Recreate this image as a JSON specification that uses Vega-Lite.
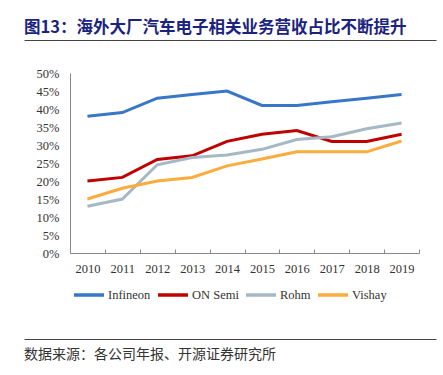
{
  "$schema": "https://vega.github.io/schema/vega-lite/v6.json",
  "padding": {"left": 23, "top": 19, "right": 8, "bottom": 5},
  "background": "white",
  "spacing": 23,
  "config": {"view": {"stroke": null}, "font": "Liberation Serif", "legend": {"labelFont": "Liberation Serif"}},
  "resolve": {"legend": {"color": "independent"}, "scale": {"color": "independent"}},
  "vconcat": [
    {
      "width": 412,
      "height": 3,
      "view": {"stroke": "#444444", "strokeWidth": 1, "strokeDash": [412, 3000]},
      "data": {"values": [{"k": 0.5}]},
      "mark": {"type": "rule", "color": "#444444", "strokeWidth": 1, "opacity": 0},
      "encoding": {
        "y": {"field": "k", "type": "quantitative", "scale": {"domain": [0, 1]}, "axis": null}
      },
      "title": {
        "text": "图13：海外大厂汽车电子相关业务营收占比不断提升",
        "orient": "top",
        "anchor": "start",
        "offset": 4,
        "font": "Noto Sans CJK SC",
        "fontSize": 16.5,
        "fontWeight": "bold",
        "color": "#1a2380"
      }
    },
    {
      "width": 412,
      "height": 180,
      "data": {
        "values": [
          {"year": "2010", "company": "Infineon", "value": 0.38},
          {"year": "2011", "company": "Infineon", "value": 0.39},
          {"year": "2012", "company": "Infineon", "value": 0.43},
          {"year": "2013", "company": "Infineon", "value": 0.44},
          {"year": "2014", "company": "Infineon", "value": 0.45},
          {"year": "2015", "company": "Infineon", "value": 0.41},
          {"year": "2016", "company": "Infineon", "value": 0.41},
          {"year": "2017", "company": "Infineon", "value": 0.42},
          {"year": "2018", "company": "Infineon", "value": 0.43},
          {"year": "2019", "company": "Infineon", "value": 0.44},
          {"year": "2010", "company": "ON Semi", "value": 0.20},
          {"year": "2011", "company": "ON Semi", "value": 0.21},
          {"year": "2012", "company": "ON Semi", "value": 0.26},
          {"year": "2013", "company": "ON Semi", "value": 0.27},
          {"year": "2014", "company": "ON Semi", "value": 0.31},
          {"year": "2015", "company": "ON Semi", "value": 0.33},
          {"year": "2016", "company": "ON Semi", "value": 0.34},
          {"year": "2017", "company": "ON Semi", "value": 0.31},
          {"year": "2018", "company": "ON Semi", "value": 0.31},
          {"year": "2019", "company": "ON Semi", "value": 0.33},
          {"year": "2010", "company": "Rohm", "value": 0.13},
          {"year": "2011", "company": "Rohm", "value": 0.15},
          {"year": "2012", "company": "Rohm", "value": 0.245},
          {"year": "2013", "company": "Rohm", "value": 0.265},
          {"year": "2014", "company": "Rohm", "value": 0.272},
          {"year": "2015", "company": "Rohm", "value": 0.288},
          {"year": "2016", "company": "Rohm", "value": 0.315},
          {"year": "2017", "company": "Rohm", "value": 0.323},
          {"year": "2018", "company": "Rohm", "value": 0.345},
          {"year": "2019", "company": "Rohm", "value": 0.361},
          {"year": "2010", "company": "Vishay", "value": 0.15},
          {"year": "2011", "company": "Vishay", "value": 0.18},
          {"year": "2012", "company": "Vishay", "value": 0.20},
          {"year": "2013", "company": "Vishay", "value": 0.21},
          {"year": "2014", "company": "Vishay", "value": 0.242},
          {"year": "2015", "company": "Vishay", "value": 0.261},
          {"year": "2016", "company": "Vishay", "value": 0.281},
          {"year": "2017", "company": "Vishay", "value": 0.281},
          {"year": "2018", "company": "Vishay", "value": 0.281},
          {"year": "2019", "company": "Vishay", "value": 0.311}
        ]
      },
      "mark": {"type": "line", "strokeWidth": 3},
      "encoding": {
        "x": {
          "field": "year",
          "type": "ordinal",
          "scale": {"type": "band", "paddingInner": 0, "paddingOuter": 0, "range": [46, 395]},
          "axis": {
            "title": null,
            "labelAngle": 0,
            "tickBand": "extent",
            "tickSize": -4,
            "domainColor": "#888888",
            "tickColor": "#888888",
            "labelFont": "Liberation Serif",
            "labelFontSize": 12.5,
            "labelColor": "#333333",
            "labelPadding": 13,
            "grid": false
          }
        },
        "y": {
          "field": "value",
          "type": "quantitative",
          "scale": {"domain": [0, 0.5]},
          "axis": {
            "title": null,
            "format": ".0%",
            "values": [0, 0.05, 0.1, 0.15, 0.2, 0.25, 0.3, 0.35, 0.4, 0.45, 0.5],
            "ticks": false,
            "labelPadding": 11,
            "offset": -46,
            "domainColor": "#888888",
            "grid": false,
            "labelFont": "Liberation Serif",
            "labelFontSize": 12.5,
            "labelColor": "#333333"
          }
        },
        "color": {
          "field": "company",
          "type": "nominal",
          "scale": {
            "domain": ["Infineon", "ON Semi", "Rohm", "Vishay"],
            "range": ["#3876c8", "#c00000", "#a5b8c6", "#fbac3c"]
          },
          "legend": {
            "title": null,
            "orient": "none",
            "legendX": 35,
            "legendY": 192,
            "direction": "horizontal",
            "symbolType": "stroke",
            "symbolSize": 900,
            "symbolStrokeWidth": 3.5,
            "labelFont": "Liberation Serif",
            "labelFontSize": 12.5,
            "labelColor": "#333333",
            "labelOffset": 2,
            "columnPadding": 0,
            "padding": 13
          }
        }
      }
    },
    {
      "width": 412,
      "height": 3,
      "view": {"stroke": "#444444", "strokeWidth": 1, "strokeDash": [412, 3000]},
      "data": {"values": [{"k": 0.5}]},
      "mark": {"type": "rule", "color": "#444444", "strokeWidth": 1, "opacity": 0},
      "encoding": {
        "y": {"field": "k", "type": "quantitative", "scale": {"domain": [0, 1]}, "axis": null}
      },
      "title": {
        "text": "数据来源：各公司年报、开源证券研究所",
        "orient": "bottom",
        "anchor": "start",
        "offset": 6,
        "font": "Noto Sans CJK SC",
        "fontSize": 14,
        "fontWeight": "normal",
        "color": "#333333"
      }
    }
  ]
}
